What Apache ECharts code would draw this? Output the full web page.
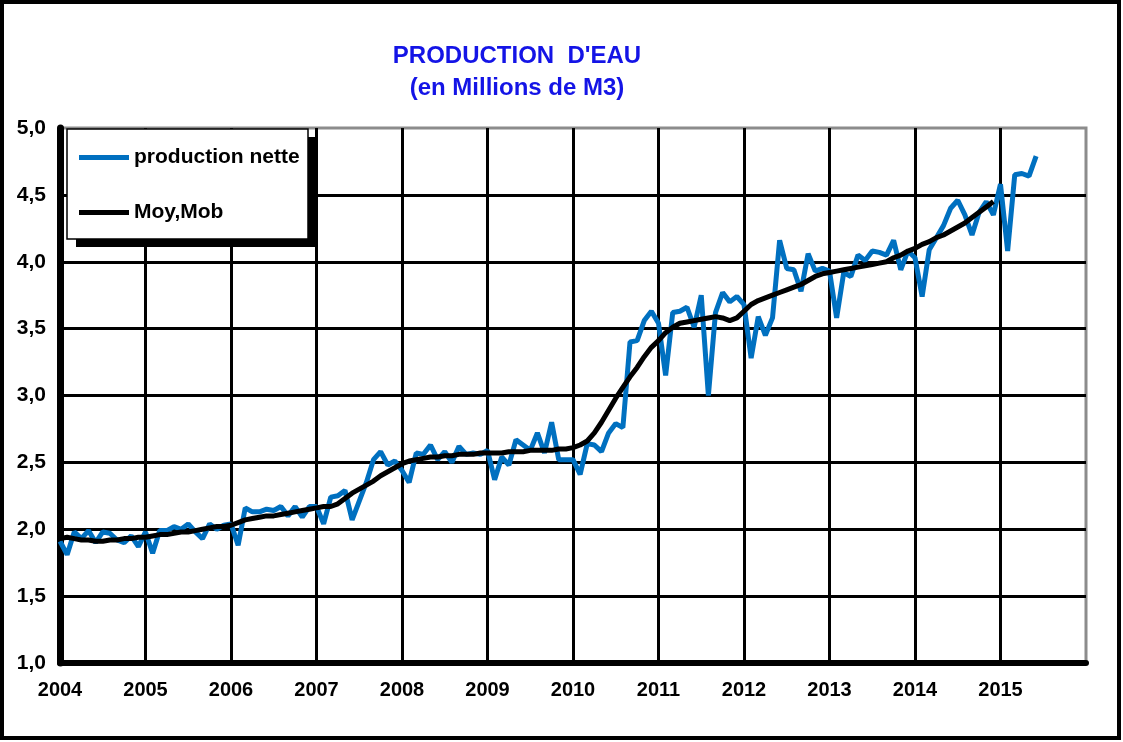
<!DOCTYPE html>
<html>
<head>
<meta charset="utf-8">
<title>Production d'eau</title>
<script src="https://cdn.jsdelivr.net/npm/echarts@6/dist/echarts.min.js"></script>
<style>
  html, body { margin: 0; padding: 0; background: #fff; }
  #chart { width: 1123px; height: 742px; }
</style>
</head>
<body>
<div id="chart"></div>
<script>
// monthly series, first point = January of startYear
const startYear = 2004;
const endYear = 2016;

// production nette, Jan 2004 .. Jun 2015
// prettier-ignore
const productionNette = [
  1.91, 1.81, 1.98, 1.93, 1.99, 1.90, 1.98, 1.97, 1.92, 1.90, 1.95, 1.87,
  1.98, 1.82, 1.99, 1.99, 2.02, 2.00, 2.04, 1.98, 1.93, 2.04, 2.00, 2.03,
  2.04, 1.88, 2.16, 2.13, 2.13, 2.15, 2.14, 2.17, 2.10, 2.17, 2.09, 2.17,
  2.17, 2.04, 2.24, 2.25, 2.29, 2.07, 2.21, 2.35, 2.52, 2.58, 2.48, 2.51,
  2.44, 2.35, 2.57, 2.56, 2.63, 2.52, 2.58, 2.50, 2.62, 2.56, 2.57, 2.56,
  2.59, 2.37, 2.54, 2.48, 2.67, 2.63, 2.59, 2.72, 2.57, 2.80, 2.52, 2.52,
  2.52, 2.41, 2.64, 2.63, 2.58, 2.72, 2.79, 2.76, 3.40, 3.41, 3.56, 3.63,
  3.54, 3.15, 3.62, 3.63, 3.66, 3.51, 3.75, 3.00, 3.62, 3.77, 3.70, 3.74,
  3.68, 3.28, 3.59, 3.45, 3.58, 4.16, 3.95, 3.94, 3.78, 4.06, 3.93, 3.95,
  3.93, 3.58, 3.92, 3.89, 4.05, 4.01, 4.08, 4.07, 4.05, 4.16, 3.94, 4.08,
  4.03, 3.74, 4.09, 4.18, 4.27, 4.40, 4.46, 4.35, 4.20, 4.37, 4.45, 4.35,
  4.58, 4.08, 4.65, 4.66, 4.64, 4.79,
];

// moyenne mobile, Jan 2004 .. Dec 2014
// prettier-ignore
const moyMob = [
  1.93, 1.94, 1.93, 1.92, 1.92, 1.91, 1.91, 1.92, 1.92, 1.93, 1.93, 1.94,
  1.94, 1.95, 1.96, 1.96, 1.97, 1.98, 1.98, 1.99, 2.00, 2.01, 2.02, 2.02,
  2.03, 2.05, 2.07, 2.08, 2.09, 2.10, 2.10, 2.11, 2.12, 2.13, 2.14, 2.15,
  2.16, 2.17, 2.17, 2.19, 2.23, 2.27, 2.30, 2.33, 2.36, 2.40, 2.43, 2.46,
  2.49, 2.51, 2.52, 2.53, 2.54, 2.54, 2.55, 2.55, 2.56, 2.56, 2.56, 2.57,
  2.57, 2.57, 2.57, 2.58, 2.58, 2.58, 2.59, 2.59, 2.59, 2.59, 2.60, 2.60,
  2.61, 2.63, 2.66, 2.72, 2.80, 2.89, 2.98, 3.06, 3.14, 3.21, 3.29, 3.36,
  3.41, 3.47, 3.51, 3.54, 3.55, 3.56, 3.57, 3.58, 3.59, 3.58, 3.56, 3.58,
  3.63, 3.68, 3.71, 3.73, 3.75, 3.77, 3.79, 3.81, 3.83, 3.86, 3.89, 3.91,
  3.92, 3.93, 3.94, 3.95, 3.96, 3.97, 3.98, 3.99, 4.00, 4.03, 4.05, 4.08,
  4.10, 4.13, 4.15, 4.18, 4.20, 4.23, 4.26, 4.29, 4.33, 4.37, 4.41, 4.45,
];

const yMin = 1;
const yMax = 5;
const yStep = 0.5;

const toPoints = (values) => values.map((v, i) => [startYear + i / 12, v]);

const chart = echarts.init(document.getElementById("chart"), null, { renderer: "canvas" });

const font = "Liberation Sans";

// legend frame (white box with a hard black shadow)
const legendBox = { x: 67, y: 129, width: 241, height: 110 };

const option = {
  animation: false,
  backgroundColor: "#fff",
  title: {
    text: "PRODUCTION  D'EAU\n(en Millions de M3)",
    left: 512,
    top: 35,
    textAlign: "center",
    textStyle: {
      color: "#1414e6",
      fontFamily: font,
      fontWeight: "bold",
      fontSize: 24,
      lineHeight: 32,
    },
  },
  graphic: [
    {
      type: "rect",
      shape: { x: 2, y: 2, width: 1117, height: 736 },
      style: { fill: null, stroke: "#000", lineWidth: 4 },
      silent: true,
    },
    {
      type: "rect",
      z: 10,
      shape: { ...legendBox, x: legendBox.x + 9, y: legendBox.y + 8 },
      style: { fill: "#000" },
      silent: true,
    },
    {
      type: "rect",
      z: 11,
      shape: legendBox,
      style: { fill: "#fff", stroke: "#000", lineWidth: 1.5 },
      silent: true,
    },
  ],
  legend: {
    orient: "vertical",
    left: 67,
    top: 129,
    z: 20,
    padding: [18, 10, 12, 12],
    itemGap: 34,
    itemWidth: 50,
    itemHeight: 5,
    icon: "rect",
    textStyle: {
      color: "#000",
      fontFamily: font,
      fontWeight: "bold",
      fontSize: 21,
    },
  },
  grid: {
    left: 60,
    right: 37,
    top: 128,
    bottom: 79,
    show: true,
    borderColor: "#8c8c8c",
    borderWidth: 3,
  },
  xAxis: {
    type: "value",
    min: startYear,
    max: endYear,
    interval: 1,
    axisLine: { show: true, lineStyle: { color: "#000", width: 6, cap: "round" } },
    axisTick: { show: false },
    axisLabel: {
      margin: 17,
      color: "#000",
      fontFamily: font,
      fontWeight: "bold",
      fontSize: 20,
      formatter: (v) => (v >= endYear ? "" : String(v)),
    },
    splitLine: { show: true, showMaxLine: false, lineStyle: { color: "#000", width: 3 } },
  },
  yAxis: {
    type: "value",
    min: yMin,
    max: yMax,
    interval: yStep,
    axisLine: { show: true, lineStyle: { color: "#000", width: 7, cap: "round" } },
    axisTick: { show: false },
    axisLabel: {
      margin: 14,
      color: "#000",
      fontFamily: font,
      fontWeight: "bold",
      fontSize: 21,
      formatter: (v) => v.toFixed(1).replace(".", ","),
    },
    splitLine: { show: true, showMaxLine: false, lineStyle: { color: "#000", width: 3 } },
  },
  series: [
    {
      name: "production nette",
      type: "line",
      data: toPoints(productionNette),
      symbol: "none",
      lineStyle: { color: "#0070c0", width: 5 },
      itemStyle: { color: "#0070c0" },
      z: 3,
    },
    {
      name: "Moy,Mob",
      type: "line",
      data: toPoints(moyMob),
      symbol: "none",
      lineStyle: { color: "#000", width: 5 },
      itemStyle: { color: "#000" },
      z: 4,
    },
  ],
};

chart.setOption(option);
</script>
</body>
</html>
